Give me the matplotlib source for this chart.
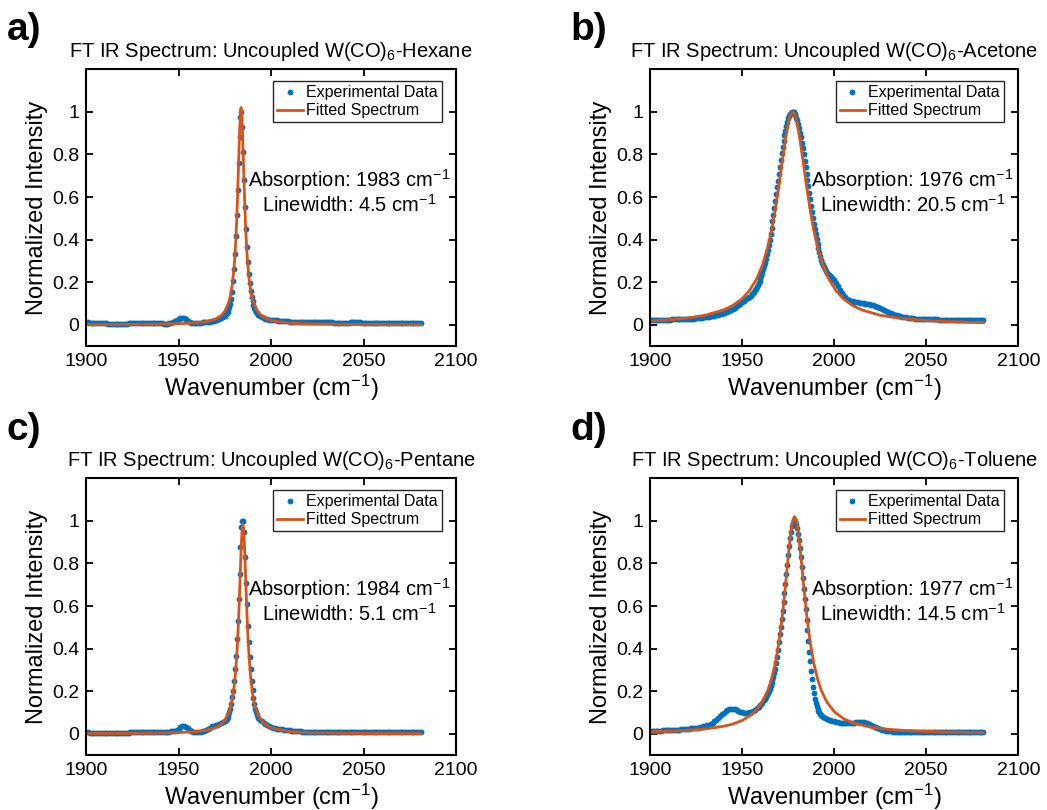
import numpy as np
import matplotlib
matplotlib.use('Agg')
import matplotlib.pyplot as plt
from matplotlib.ticker import FuncFormatter

plt.rcParams['font.family'] = ['Liberation Sans', 'DejaVu Sans']
plt.rcParams['mathtext.fontset'] = 'custom'
plt.rcParams['mathtext.rm'] = 'Liberation Sans'
plt.rcParams['mathtext.default'] = 'regular'

BLUE = '#0072BD'
RED = '#D95319'

# --- Hexane (panel a) ---
hex_x = np.concatenate((np.arange(1900, 1975), np.arange(1975, 1993.5, 0.5), np.arange(1994, 2082)))
hex_y = [
    0.011, 0.011, 0.010, 0.010, 0.009, 0.009, 0.008, 0.008, 0.007, 0.007,
    0.006, 0.006, 0.005, 0.005, 0.004, 0.004, 0.004, 0.005, 0.005, 0.004,
    0.004, 0.004, 0.005, 0.006, 0.007, 0.008, 0.008, 0.009, 0.009, 0.008,
    0.008, 0.008, 0.009, 0.009, 0.008, 0.008, 0.009, 0.009, 0.008, 0.007,
    0.007, 0.006, 0.005, 0.005, 0.005, 0.006, 0.008, 0.011, 0.016, 0.022,
    0.028, 0.032, 0.033, 0.031, 0.026, 0.019, 0.013, 0.010, 0.009, 0.009,
    0.009, 0.010, 0.010, 0.011, 0.011, 0.012, 0.013, 0.014, 0.016, 0.018,
    0.021, 0.024, 0.028, 0.033, 0.038,
    # 1975 - 1993, half steps
    0.043, 0.048, 0.054, 0.062, 0.071, 0.083, 0.098, 0.122, 0.155, 0.205,
    0.260, 0.330, 0.415, 0.515, 0.634, 0.760, 0.884, 0.975, 1.000, 0.930,
    0.810, 0.680, 0.555, 0.450, 0.365, 0.295, 0.240, 0.195, 0.160, 0.132,
    0.110, 0.093, 0.080, 0.069, 0.060, 0.053, 0.047,
    # 1994 - 2081
    0.040, 0.035, 0.031, 0.028, 0.026, 0.024,
    0.022, 0.021, 0.020, 0.020, 0.019, 0.019, 0.018, 0.018, 0.017, 0.016,
    0.015, 0.014, 0.013, 0.012, 0.012, 0.011, 0.011, 0.011, 0.012, 0.012,
    0.013, 0.013, 0.013, 0.013, 0.013, 0.012, 0.012, 0.012, 0.012, 0.011,
    0.011, 0.011, 0.011, 0.011, 0.010, 0.010, 0.010, 0.010, 0.010, 0.010,
    0.010, 0.010, 0.010, 0.011, 0.011, 0.011, 0.011, 0.011, 0.011, 0.010,
    0.010, 0.010, 0.010, 0.010, 0.009, 0.009, 0.009, 0.009, 0.009, 0.009,
    0.009, 0.009, 0.009, 0.009, 0.009, 0.009, 0.009, 0.009, 0.009, 0.009,
    0.009, 0.009, 0.009, 0.009, 0.009, 0.009, 0.008, 0.008, 0.008, 0.008,
    0.008, 0.008,
]
hex_fit_x = [1900, 1920, 1940, 1950, 1960, 1965, 1970, 1973, 1975, 1977,
             1978, 1979, 1980, 1980.5, 1981, 1981.5, 1982, 1982.5, 1983, 1983.5,
             1983.8, 1984.1, 1984.5, 1985, 1985.5, 1986, 1986.5, 1987, 1988, 1989,
             1990, 1992, 1995, 2000, 2010, 2020, 2040, 2060, 2081]
hex_fit_y = [0.0007, 0.0013, 0.0027, 0.0045, 0.009, 0.0144, 0.0264, 0.0424, 0.0626, 0.1007,
             0.1334, 0.1838, 0.2648, 0.3237, 0.4002, 0.4988, 0.622, 0.7646, 0.9055, 1.002,
             1.02, 1.002, 0.930, 0.794, 0.649, 0.5215, 0.418, 0.3374, 0.2275, 0.1609,
             0.1187, 0.0714, 0.0396, 0.0193, 0.0075, 0.0039, 0.0016, 0.0009, 0.00055]

# --- Acetone (panel b) ---
ace_x = np.concatenate((np.arange(1900, 1955), np.arange(1955, 2000.5, 0.5), np.arange(2001, 2082)))
ace_y = [
    0.023, 0.023, 0.023, 0.023, 0.023, 0.023, 0.024, 0.024, 0.024, 0.024,
    0.024, 0.024, 0.025, 0.025, 0.025, 0.025, 0.026, 0.026, 0.026, 0.027,
    0.027, 0.027, 0.028, 0.028, 0.029, 0.030, 0.031, 0.032, 0.033, 0.034,
    0.035, 0.036, 0.038, 0.039, 0.041, 0.043, 0.045, 0.047, 0.050, 0.052,
    0.055, 0.058, 0.062, 0.066, 0.070, 0.075, 0.080, 0.086, 0.092, 0.098,
    0.105, 0.112, 0.119, 0.126, 0.132,
    # 1955 - 2000, half steps
    0.136, 0.142, 0.148, 0.155, 0.162, 0.170, 0.178, 0.187, 0.196, 0.207,
    0.218, 0.231, 0.245, 0.260, 0.275, 0.292, 0.310, 0.330, 0.352, 0.375,
    0.400, 0.427, 0.455, 0.485, 0.515, 0.547, 0.580, 0.612, 0.645, 0.677,
    0.710, 0.742, 0.775, 0.805, 0.835, 0.862, 0.890, 0.912, 0.935, 0.953,
    0.970, 0.980, 0.990, 0.995, 0.999, 1.000, 0.998, 0.992, 0.985, 0.973,
    0.960, 0.943, 0.925, 0.903, 0.880, 0.855, 0.830, 0.800, 0.770, 0.740,
    0.710, 0.680, 0.650, 0.620, 0.590, 0.560, 0.530, 0.502, 0.475, 0.450,
    0.425, 0.402, 0.380, 0.360, 0.340, 0.322, 0.305, 0.292, 0.280, 0.270,
    0.260, 0.252, 0.245, 0.240, 0.235, 0.231, 0.227, 0.224, 0.220, 0.215,
    0.210,
    # 2001 - 2081
    0.197, 0.182, 0.165, 0.150, 0.138, 0.128, 0.120, 0.115, 0.112, 0.110,
    0.108, 0.107, 0.106, 0.104, 0.102, 0.100, 0.099, 0.097, 0.095, 0.093,
    0.091, 0.088, 0.085, 0.081, 0.077, 0.073, 0.069, 0.065, 0.061, 0.057,
    0.053, 0.050, 0.047, 0.044, 0.042, 0.040, 0.038, 0.036, 0.034, 0.033,
    0.032, 0.031, 0.030, 0.029, 0.028, 0.028, 0.027, 0.027, 0.026, 0.026,
    0.026, 0.025, 0.025, 0.025, 0.025, 0.025, 0.024, 0.024, 0.024, 0.024,
    0.024, 0.024, 0.024, 0.024, 0.024, 0.024, 0.024, 0.024, 0.024, 0.024,
    0.024, 0.024, 0.024, 0.024, 0.024, 0.024, 0.024, 0.024, 0.024, 0.024,
    0.024,
]
ace_fit_x = [1900, 1910, 1920, 1930, 1940, 1945, 1950, 1954, 1958, 1961,
             1964, 1966, 1968, 1970, 1972, 1974, 1975.5, 1976.5, 1977.5, 1978.5,
             1979.5, 1981, 1983, 1985, 1987, 1989, 1991, 1994, 1997, 2001,
             2005, 2010, 2015, 2025, 2035, 2045, 2060, 2081]
ace_fit_y = [0.0172, 0.0225, 0.0308, 0.0445, 0.0695, 0.0905, 0.122, 0.1598, 0.2165, 0.2785,
             0.3656, 0.4427, 0.5379, 0.6513, 0.7765, 0.8956, 0.9633, 0.9906, 1.0, 0.9906,
             0.9633, 0.8956, 0.7765, 0.6513, 0.5379, 0.4427, 0.3656, 0.2785, 0.2165, 0.1598,
             0.122, 0.0905, 0.0695, 0.0445, 0.0308, 0.0225, 0.0152, 0.0097]

# --- Pentane (panel c) ---
pen_x = np.concatenate((np.arange(1900, 1975), np.arange(1975, 1993.5, 0.5), np.arange(1994, 2082)))
pen_y = [
    0.006, 0.006, 0.005, 0.005, 0.005, 0.005, 0.005, 0.005, 0.005, 0.005,
    0.005, 0.005, 0.005, 0.005, 0.005, 0.005, 0.005, 0.005, 0.005, 0.005,
    0.005, 0.005, 0.005, 0.005, 0.006, 0.006, 0.006, 0.006, 0.006, 0.006,
    0.006, 0.006, 0.006, 0.007, 0.007, 0.007, 0.007, 0.007, 0.007, 0.008,
    0.008, 0.008, 0.008, 0.009, 0.009, 0.010, 0.011, 0.012, 0.014, 0.018,
    0.024, 0.030, 0.034, 0.035, 0.032, 0.025, 0.017, 0.011, 0.008, 0.007,
    0.007, 0.008, 0.009, 0.011, 0.014, 0.018, 0.023, 0.029, 0.034, 0.038,
    0.041, 0.043, 0.046, 0.050, 0.054,
    # 1975 - 1993, half steps
    0.058, 0.063, 0.069, 0.077, 0.087, 0.100, 0.118, 0.140, 0.172, 0.203,
    0.250, 0.305, 0.367, 0.445, 0.531, 0.633, 0.750, 0.875, 0.972, 1.000,
    1.000, 0.950, 0.830, 0.706, 0.610, 0.508, 0.430, 0.360, 0.305, 0.250,
    0.205, 0.170, 0.140, 0.118, 0.100, 0.086, 0.075,
    # 1994 - 2081
    0.066, 0.058, 0.051, 0.045, 0.040, 0.036,
    0.032, 0.029, 0.026, 0.024, 0.022, 0.021, 0.020, 0.019, 0.018, 0.017,
    0.016, 0.015, 0.014, 0.013, 0.012, 0.011, 0.011, 0.010, 0.010, 0.010,
    0.009, 0.009, 0.009, 0.008, 0.008, 0.008, 0.008, 0.008, 0.008, 0.008,
    0.008, 0.007, 0.007, 0.007, 0.007, 0.007, 0.007, 0.007, 0.007, 0.007,
    0.007, 0.007, 0.007, 0.006, 0.006, 0.006, 0.006, 0.006, 0.006, 0.006,
    0.006, 0.006, 0.006, 0.006, 0.006, 0.006, 0.006, 0.006, 0.006, 0.006,
    0.006, 0.006, 0.006, 0.006, 0.006, 0.006, 0.006, 0.006, 0.006, 0.006,
    0.006, 0.006, 0.006, 0.006, 0.006, 0.006, 0.006, 0.006, 0.006, 0.006,
    0.006, 0.006,
]
pen_fit_x = [1900, 1920, 1940, 1950, 1960, 1965, 1970, 1973, 1975, 1977,
             1978, 1979, 1980, 1980.5, 1981, 1981.5, 1982, 1982.5, 1983, 1983.5,
             1984, 1984.4, 1984.8, 1985.2, 1985.6, 1986, 1986.5, 1987, 1987.5, 1988,
             1989, 1990, 1991, 1993, 1996, 2000, 2010, 2020, 2040, 2060, 2081]
pen_fit_y = [0.0009, 0.0015, 0.0032, 0.0053, 0.0103, 0.0161, 0.0284, 0.044, 0.0625, 0.0951,
             0.1214, 0.1595, 0.2168, 0.2563, 0.3058, 0.3682, 0.4465, 0.5431, 0.6574, 0.7817,
             0.8968, 0.9614, 0.985, 0.9614, 0.8968, 0.8064, 0.682, 0.5647, 0.4644, 0.3825,
             0.2653, 0.191, 0.1425, 0.0869, 0.0485, 0.027, 0.0100, 0.0051, 0.0021, 0.0011, 0.0007]

# --- Toluene (panel d) ---
tol_x = np.concatenate((np.arange(1900, 1962), np.arange(1962, 1994.5, 0.5), np.arange(1995, 2082)))
tol_y = [
    0.015, 0.015, 0.015, 0.015, 0.015, 0.015, 0.015, 0.016, 0.016, 0.016,
    0.016, 0.017, 0.017, 0.018, 0.018, 0.019, 0.019, 0.020, 0.021, 0.022,
    0.023, 0.024, 0.025, 0.026, 0.027, 0.028, 0.029, 0.031, 0.033, 0.035,
    0.037, 0.040, 0.043, 0.047, 0.052, 0.058, 0.065, 0.073, 0.082, 0.091,
    0.099, 0.106, 0.112, 0.116, 0.118, 0.117, 0.114, 0.110, 0.106, 0.103,
    0.100, 0.098, 0.098, 0.099, 0.101, 0.104, 0.108, 0.113, 0.119, 0.126,
    0.135, 0.146,
    # 1962 - 1994, half steps
    0.158, 0.165, 0.172, 0.180, 0.189, 0.199, 0.210, 0.222, 0.236, 0.251,
    0.267, 0.285, 0.305, 0.330, 0.360, 0.395, 0.432, 0.468, 0.503, 0.540,
    0.578, 0.618, 0.660, 0.705, 0.750, 0.795, 0.840, 0.882, 0.920, 0.950,
    0.975, 0.990, 0.998, 1.000,
    0.995, 0.983, 0.965, 0.940, 0.910, 0.872, 0.830, 0.782, 0.730, 0.680,
    0.635, 0.585, 0.535, 0.485, 0.435, 0.385, 0.340, 0.295, 0.255, 0.220,
    0.190, 0.165, 0.145, 0.130, 0.118, 0.108, 0.100, 0.093, 0.087, 0.082,
    0.078,
    # 1995 - 2081
    0.074, 0.070, 0.066, 0.063, 0.060,
    0.058, 0.056, 0.054, 0.052, 0.051, 0.050, 0.049, 0.049, 0.049, 0.050,
    0.051, 0.052, 0.053, 0.054, 0.055, 0.055, 0.054, 0.052, 0.049, 0.045,
    0.041, 0.037, 0.033, 0.029, 0.025, 0.022, 0.019, 0.017, 0.015, 0.013,
    0.012, 0.011, 0.010, 0.010, 0.009, 0.009, 0.009, 0.008, 0.008, 0.008,
    0.008, 0.008, 0.008, 0.008, 0.008, 0.008, 0.008, 0.008, 0.008, 0.008,
    0.007, 0.007, 0.007, 0.007, 0.007, 0.007, 0.007, 0.007, 0.007, 0.007,
    0.007, 0.007, 0.007, 0.007, 0.007, 0.007, 0.007, 0.007, 0.007, 0.007,
    0.007, 0.007, 0.007, 0.007, 0.007, 0.007, 0.007, 0.007, 0.007, 0.007,
    0.008, 0.008,
]
tol_fit_x = [1900, 1910, 1920, 1930, 1940, 1945, 1950, 1955, 1958, 1961,
             1964, 1966, 1968, 1970, 1971, 1972, 1973, 1974, 1975, 1976,
             1977, 1977.75, 1978.5, 1979.25, 1980, 1981, 1982, 1983, 1984, 1985,
             1986, 1987, 1989, 1991, 1993, 1996, 2000, 2005, 2010, 2020,
             2030, 2045, 2060, 2081]
tol_fit_y = [0.0086, 0.0113, 0.0154, 0.0223, 0.0349, 0.0456, 0.062, 0.0886, 0.1134, 0.1494,
             0.204, 0.2567, 0.3293, 0.4295, 0.4927, 0.5655, 0.6474, 0.7363, 0.8272, 0.9116,
             0.9781, 1.0092, 1.02, 1.0092, 0.9781, 0.9116, 0.8272, 0.7363, 0.6474, 0.5655,
             0.4927, 0.4295, 0.3293, 0.2567, 0.204, 0.1494, 0.1041, 0.071, 0.0513, 0.0302,
             0.0198, 0.012, 0.008, 0.0051]

panels = [
    ('a)', 'Hexane', hex_x, hex_y, hex_fit_x, hex_fit_y, '1983', '4.5'),
    ('b)', 'Acetone', ace_x, ace_y, ace_fit_x, ace_fit_y, '1976', '20.5'),
    ('c)', 'Pentane', pen_x, pen_y, pen_fit_x, pen_fit_y, '1984', '5.1'),
    ('d)', 'Toluene', tol_x, tol_y, tol_fit_x, tol_fit_y, '1977', '14.5'),
]

W, H = 1047, 810
# axes boxes in pixels: left, top, width, height
boxes = [(86, 69.3, 370, 276.7), (650, 69.3, 368.3, 276.7),
         (86, 478.3, 370, 276.7), (650, 478.3, 368.3, 276.7)]
label_pos = [(7, 40.5), (570, 40.5), (7, 440.5), (570, 440.5)]

fig = plt.figure(figsize=(W / 100, H / 100), dpi=100)

for (lab, solvent, x, y, fx, fy, absorb, width), box, lp in zip(panels, boxes, label_pos):
    l, t, w, h = box
    ax = fig.add_axes([l / W, (H - t - h) / H, w / W, h / H])

    ax.plot(x, y, 'o', color=BLUE, ms=4.2, mew=0, label='Experimental Data')
    ax.plot(fx, fy, '-', color=RED, lw=2, label='Fitted Spectrum')

    ax.set_xlim(1900, 2100)
    ax.set_ylim(-0.1, 1.2)
    ax.set_xticks([1900, 1950, 2000, 2050, 2100])
    ax.set_yticks([0, 0.2, 0.4, 0.6, 0.8, 1])
    ax.yaxis.set_major_formatter(FuncFormatter(lambda v, p: '%g' % v))
    ax.tick_params(direction='in', top=True, right=True, length=5, width=1.3,
                   labelsize=14, pad=5)
    for s in ax.spines.values():
        s.set_linewidth(1.5)

    ax.set_title('FT IR Spectrum: Uncoupled W(CO)$_6$-' + solvent, fontsize=14.5, pad=9)
    ax.set_xlabel('Wavenumber (cm$^{-1}$)', fontsize=17, labelpad=2)
    ax.set_ylabel('Normalized Intensity', fontsize=17, labelpad=3)

    ax.text(2042.5, 0.647, 'Absorption: ' + absorb + ' cm$^{-1}$', fontsize=14.5, ha='center', va='baseline')
    ax.text(2042.5, 0.530, 'Linewidth: ' + width + ' cm$^{-1}$', fontsize=14.5, ha='center', va='baseline')

    leg = ax.legend(loc='upper right', bbox_to_anchor=(0.961, 0.957), borderaxespad=0,
                    fontsize=11.5, numpoints=1, handlelength=1.6, handletextpad=0.2,
                    borderpad=0.25, labelspacing=0.2, fancybox=False, framealpha=1)
    leg.get_frame().set_edgecolor('0.15')
    leg.get_frame().set_linewidth(1.0)

    fig.text(lp[0] / W, 1 - lp[1] / H, lab, fontsize=28, fontweight='bold', va='baseline')

fig.savefig('out.png', dpi=100)
